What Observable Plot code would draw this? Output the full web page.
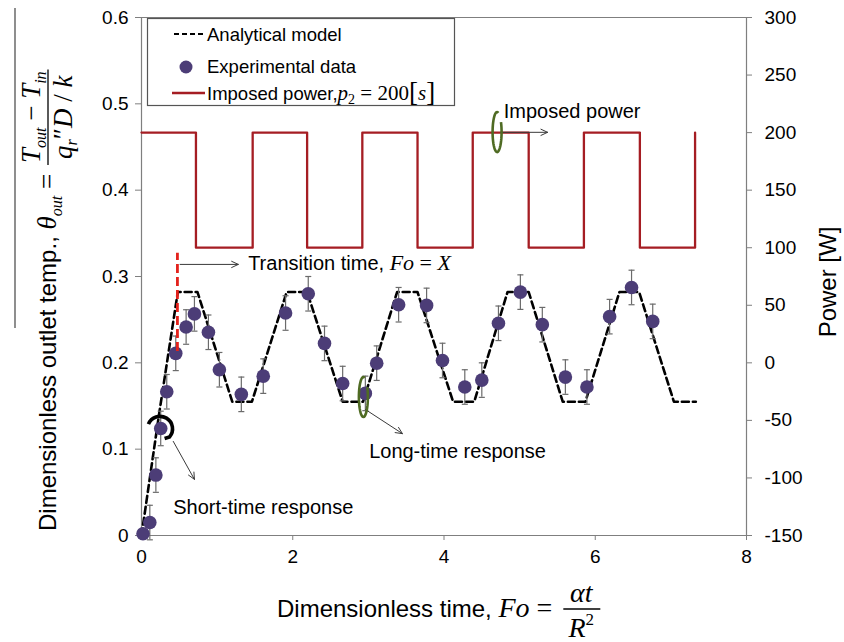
<!DOCTYPE html>
<html><head><meta charset="utf-8">
<script src="https://cdn.jsdelivr.net/npm/d3@7"></script>
<script src="https://cdn.jsdelivr.net/npm/@observablehq/plot@0.6"></script>
<style>html,body{margin:0;padding:0;background:#fff}#chart svg{display:block}</style>
</head><body><div id="chart"></div>
<script>
// ---------- data ----------
const xTicks = [0, 2, 4, 6, 8];
const yTicks = [0, 0.1, 0.2, 0.3, 0.4, 0.5, 0.6];
const powerTicks = [-150, -100, -50, 0, 50, 100, 150, 200, 250, 300];

const powerFo = [0, 0.72, 1.47, 2.19, 2.92, 3.65, 4.38, 5.12, 5.85, 6.59, 7.32];
const powerW  = [200, 100, 200, 100, 200, 100, 200, 100, 200, 100, 200];

const modelFo    = [0, 0.24, 0.48, 0.74, 1.20, 1.46, 1.92, 2.19, 2.66, 2.93, 3.38, 3.65, 4.12, 4.40, 4.84, 5.12, 5.57, 5.87, 6.32, 6.58, 7.04, 7.33];
const modelTheta = [0, 0.145, 0.282, 0.282, 0.155, 0.155, 0.282, 0.282, 0.155, 0.155, 0.282, 0.282, 0.155, 0.155, 0.282, 0.282, 0.155, 0.155, 0.282, 0.282, 0.155, 0.155];

const expFo    = [0.02, 0.11, 0.19, 0.254, 0.334, 0.453, 0.59, 0.70, 0.885, 1.03, 1.32, 1.61, 1.905, 2.205, 2.42, 2.66, 2.96, 3.11, 3.40, 3.77, 3.98, 4.275, 4.50, 4.72, 5.01, 5.30, 5.605, 5.89, 6.19, 6.48, 6.76];
const expTheta = [0.002, 0.015, 0.070, 0.124, 0.1665, 0.211, 0.2415, 0.2567, 0.2354, 0.192, 0.1635, 0.1846, 0.2577, 0.280, 0.2225, 0.176, 0.1646, 0.1996, 0.2673, 0.2665, 0.2027, 0.172, 0.180, 0.2458, 0.2819, 0.2442, 0.1835, 0.172, 0.2535, 0.2873, 0.248];
const expErr   = [0, 0.02, 0.02, 0.02, 0.02, 0.02, 0.02, 0.02, 0.02, 0.02, 0.02, 0.02, 0.02, 0.02, 0.02, 0.02, 0.02, 0.02, 0.02, 0.02, 0.02, 0.02, 0.02, 0.02, 0.02, 0.02, 0.02, 0.02, 0.02, 0.02, 0.02];

// annotations (data coordinates)
const transitionFo = [0.475];
const transitionRange = [0.213, 0.327];
const arrowX1 = [0.51, 4.75, 2.96, 0.42];
const arrowY1 = [0.314, 0.467, 0.146, 0.109];
const arrowX2 = [1.28, 5.37, 3.45, 0.70];
const arrowY2 = [0.314, 0.467, 0.118, 0.065];
const noteText = ["Transition time, ", "Imposed power", "Long-time response", "Short-time response"];
const noteFo   = [1.41, 4.79, 3.01, 0.42];
const noteTh   = [0.3147, 0.4909, 0.0977, 0.0323];
const loopFo = [4.702, 2.934];
const loopTh = [0.4673, 0.1604];
const arcFo = [0.245];
const arcTh = [0.1235];

// ---------- helpers ----------
const SANS = "'Liberation Sans', Arial, sans-serif";
const SERIF = "'Liberation Serif', 'Times New Roman', serif";
const AXIS = "#7f7f7f";
const RED = "#a51d23";
const PURPLE = "#4c3d77";
const GREEN = "#4f6b23";
const P0 = -150, P1 = 300;
const toTheta = p => (p - P0) / (P1 - P0) * 0.6;
const fromTheta = t => t / 0.6 * (P1 - P0) + P0;

const powerData = powerFo.map((f, i) => ({fo: f, th: toTheta(powerW[i])}));
const modelData = modelFo.map((f, i) => ({fo: f, th: modelTheta[i]}));
const expData = expFo.map((f, i) => ({fo: f, th: expTheta[i], err: expErr[i]}));
const errData = expData.filter(d => d.err > 0);
const arrows = arrowX1.map((x, i) => ({x1: x, y1: arrowY1[i], x2: arrowX2[i], y2: arrowY2[i]}));
const notes = noteText.map((t, i) => ({t, fo: noteFo[i], th: noteTh[i], k: i}));
const loops = loopFo.map((f, i) => ({fo: f, th: loopTh[i]}));
const arcs = arcFo.map((f, i) => ({fo: f, th: arcTh[i]}));

const loopSymbol = {
  draw(ctx) {
    const rx = 4.5, ry = 20, N = 40;
    const a0 = -Math.PI / 2 + 0.3, a1 = a0 - 2 * Math.PI + 0.75;
    for (let i = 0; i <= N; i++) {
      const t = a0 + (a1 - a0) * i / N;
      const x = rx * Math.cos(t), y = ry * Math.sin(t);
      if (i) ctx.lineTo(x, y); else ctx.moveTo(x, y);
    }
  }
};
const arcSymbol = {
  draw(ctx) {
    const r = 12.5;
    const a0 = -158 * Math.PI / 180, a1 = 40 * Math.PI / 180;
    ctx.moveTo(r * Math.cos(a0), r * Math.sin(a0));
    ctx.arc(0, 0, r, a0, a1, false);
    ctx.lineTo(r * Math.cos(a1) - 5, r * Math.sin(a1) + 1.5);
  }
};

const chart = Plot.plot({
  width: 844, height: 642,
  marginLeft: 141, marginRight: 98, marginTop: 17, marginBottom: 107,
  x: {domain: [0, 8], axis: null, label: null},
  y: {domain: [0, 0.6], axis: null, label: null},
  style: {fontFamily: SANS, fontSize: "19px", background: "white", color: "black", overflow: "visible"},
  marks: [
    Plot.ruleY([0.6], {stroke: AXIS, strokeWidth: 1.2}),
    Plot.ruleY([0], {stroke: AXIS, strokeWidth: 1.2}),
    Plot.ruleX([0], {stroke: AXIS, strokeWidth: 1.2}),
    Plot.ruleX([8], {stroke: AXIS, strokeWidth: 1.2}),
    Plot.axisX(xTicks, {tickSize: 5, tickPadding: 9, stroke: AXIS, fontSize: 19, label: null, tickFormat: d => String(d)}),
    Plot.axisY(yTicks, {anchor: "left", tickSize: 6, tickPadding: 7, stroke: AXIS, fontSize: 19, label: null, tickFormat: d => d === 0 ? "0" : d.toFixed(1)}),
    Plot.axisY(powerTicks.map(toTheta), {anchor: "right", tickSize: 5, tickPadding: 13, stroke: AXIS, fontSize: 19, label: null, tickFormat: d => String(Math.round(fromTheta(d)))}),
    Plot.line(powerData, {x: "fo", y: "th", curve: "step-after", stroke: RED, strokeWidth: 2.3}),
    Plot.line(modelData, {x: "fo", y: "th", stroke: "black", strokeWidth: 2.6, strokeDasharray: "7,4"}),
    Plot.ruleX(errData, {x: "fo", y1: d => d.th - d.err, y2: d => d.th + d.err, stroke: "#6b6b6b", strokeWidth: 1.2}),
    Plot.link(errData, {x1: d => d.fo - 0.04, x2: d => d.fo + 0.04, y1: d => d.th + d.err, y2: d => d.th + d.err, stroke: "#6b6b6b", strokeWidth: 1.2}),
    Plot.link(errData, {x1: d => d.fo - 0.04, x2: d => d.fo + 0.04, y1: d => d.th - d.err, y2: d => d.th - d.err, stroke: "#6b6b6b", strokeWidth: 1.2}),
    Plot.dot(expData, {x: "fo", y: "th", r: 6.8, fill: PURPLE, stroke: "none"}),
    Plot.ruleX(transitionFo, {x: d => d, y1: transitionRange[0], y2: transitionRange[1], stroke: "#e3221c", strokeWidth: 2.8, strokeDasharray: "9,4"}),
    Plot.arrow(arrows, {x1: "x1", y1: "y1", x2: "x2", y2: "y2", stroke: "#3a3a3a", strokeWidth: 1, headLength: 11, headAngle: 50}),
    Plot.text(notes, {x: "fo", y: "th", text: "t", textAnchor: "start", fontSize: 20, fill: "black", className: "notes"}),
    Plot.dot(loops, {x: "fo", y: "th", symbol: loopSymbol, r: 5, stroke: GREEN, strokeWidth: 2.6, fill: "none"}),
    Plot.dot(arcs, {x: "fo", y: "th", symbol: arcSymbol, r: 5, stroke: "black", strokeWidth: 3.6, fill: "none"})
  ]
});
document.getElementById("chart").append(chart);
const svg = d3.select(chart);

// "Fo = X" after the transition-time note
const tNote = svg.selectAll(".notes text").filter((d, i, n) => n[i].textContent.startsWith("Transition"));
tNote.append("tspan").attr("font-family", SERIF).attr("font-style", "italic").attr("font-size", 22).text("Fo");
tNote.append("tspan").attr("font-family", SERIF).attr("font-size", 22).text(" = ");
tNote.append("tspan").attr("font-family", SERIF).attr("font-style", "italic").attr("font-size", 22).text("X");

// ---------- legend ----------
const lg = svg.append("g").attr("font-family", SANS).attr("font-size", 18.5).attr("text-anchor", "start").attr("fill", "black");
lg.append("rect").attr("x", 147.5).attr("y", 18.5).attr("width", 307).attr("height", 87).attr("fill", "white").attr("stroke", "#555").attr("stroke-width", 1.2);
lg.append("line").attr("x1", 174).attr("x2", 205).attr("y1", 34).attr("y2", 34).attr("stroke", "black").attr("stroke-width", 2).attr("stroke-dasharray", "5,3");
lg.append("text").attr("x", 207).attr("y", 41).text("Analytical model");
lg.append("circle").attr("cx", 186).attr("cy", 67).attr("r", 6.5).attr("fill", PURPLE);
lg.append("text").attr("x", 207).attr("y", 73).text("Experimental data");
lg.append("line").attr("x1", 172).attr("x2", 205).attr("y1", 93).attr("y2", 93).attr("stroke", RED).attr("stroke-width", 2.3);
const lt = lg.append("text").attr("x", 207).attr("y", 100);
lt.append("tspan").text("Imposed power,");
lt.append("tspan").attr("font-family", SERIF).attr("font-style", "italic").attr("font-size", 21).text("p");
lt.append("tspan").attr("font-family", SERIF).attr("font-size", 14).attr("dy", 4).text("2");
lt.append("tspan").attr("font-family", SERIF).attr("font-size", 21).attr("dy", -4).text(" = 200");
lt.append("tspan").attr("font-family", SERIF).attr("font-size", 27).attr("dy", 1).text("[");
lt.append("tspan").attr("font-family", SERIF).attr("font-style", "italic").attr("font-size", 21).attr("dy", -1).text("s");
lt.append("tspan").attr("font-family", SERIF).attr("font-size", 27).attr("dy", 1).text("]");

// ---------- x axis title ----------
const xg = svg.append("g").attr("text-anchor", "start").attr("fill", "black");
const xl = xg.append("text").attr("x", 277).attr("y", 617).attr("font-family", SANS).attr("font-size", 24);
xl.append("tspan").text("Dimensionless time, ");
xl.append("tspan").attr("font-family", SERIF).attr("font-style", "italic").attr("font-size", 28).text("Fo");
xl.append("tspan").attr("font-family", SERIF).attr("font-size", 28).text(" = ");
const xEnd = 277 + xl.node().getComputedTextLength();
const fx = xEnd + 4;
xg.append("text").attr("x", fx + 18).attr("y", 602).attr("text-anchor", "middle").attr("font-family", SERIF).attr("font-style", "italic").attr("font-size", 28).text("αt");
xg.append("line").attr("x1", fx).attr("x2", fx + 37).attr("y1", 609).attr("y2", 609).attr("stroke", "black").attr("stroke-width", 1.3);
const rr = xg.append("text").attr("x", fx + 18).attr("y", 637).attr("text-anchor", "middle").attr("font-family", SERIF).attr("font-style", "italic").attr("font-size", 28);
rr.append("tspan").text("R");
rr.append("tspan").attr("font-style", "normal").attr("font-size", 17).attr("dy", -12).text("2");

// ---------- right axis title ----------
svg.append("text").attr("transform", "translate(836,282) rotate(-90)").attr("text-anchor", "middle").attr("font-family", SANS).attr("font-size", 24).attr("fill", "black").text("Power [W]");

// ---------- left axis title ----------
const yl = svg.append("g").attr("transform", "translate(56,531) rotate(-90)").attr("fill", "black").attr("text-anchor", "start");
const ym = yl.append("text").attr("x", 0).attr("y", 0).attr("font-family", SANS).attr("font-size", 24);
ym.append("tspan").text("Dimensionless outlet temp., ");
ym.append("tspan").attr("font-family", SERIF).attr("font-style", "italic").attr("font-size", 27).text("θ");
ym.append("tspan").attr("font-family", SERIF).attr("font-style", "italic").attr("font-size", 16).attr("dy", 6).text("out");
ym.append("tspan").attr("font-family", SERIF).attr("font-size", 27).attr("dy", -6).text(" = ");
const L = ym.node().getComputedTextLength();
const num = yl.append("text").attr("y", -16).attr("font-family", SERIF).attr("font-size", 27).attr("font-style", "italic");
num.append("tspan").text("T");
num.append("tspan").attr("font-size", 16).attr("dy", 6).text("out");
num.append("tspan").attr("font-style", "normal").attr("dy", -6).text(" − ");
num.append("tspan").text("T");
num.append("tspan").attr("font-size", 16).attr("dy", 6).text("in");
const den = yl.append("text").attr("y", 16).attr("font-family", SERIF).attr("font-size", 27).attr("font-style", "italic");
den.append("tspan").text("q");
den.append("tspan").attr("font-size", 16).attr("dy", 5).text("r");
den.append("tspan").attr("font-style", "normal").attr("dy", -5).text("″");
den.append("tspan").text("D");
den.append("tspan").attr("font-style", "normal").text(" / ");
den.append("tspan").text("k");
const nW = num.node().getComputedTextLength(), dW = den.node().getComputedTextLength();
const fW = Math.max(nW, dW) + 4;
const f0 = L + 2;
num.attr("x", f0 + (fW - nW) / 2);
den.attr("x", f0 + (fW - dW) / 2);
yl.append("line").attr("x1", f0).attr("x2", f0 + fW).attr("y1", -8).attr("y2", -8).attr("stroke", "black").attr("stroke-width", 1.3);
// long vertical rule at far left
svg.append("line").attr("x1", 15).attr("x2", 15).attr("y1", 8).attr("y2", 328).attr("stroke", "#444").attr("stroke-width", 1.2);
</script>
</body></html>
